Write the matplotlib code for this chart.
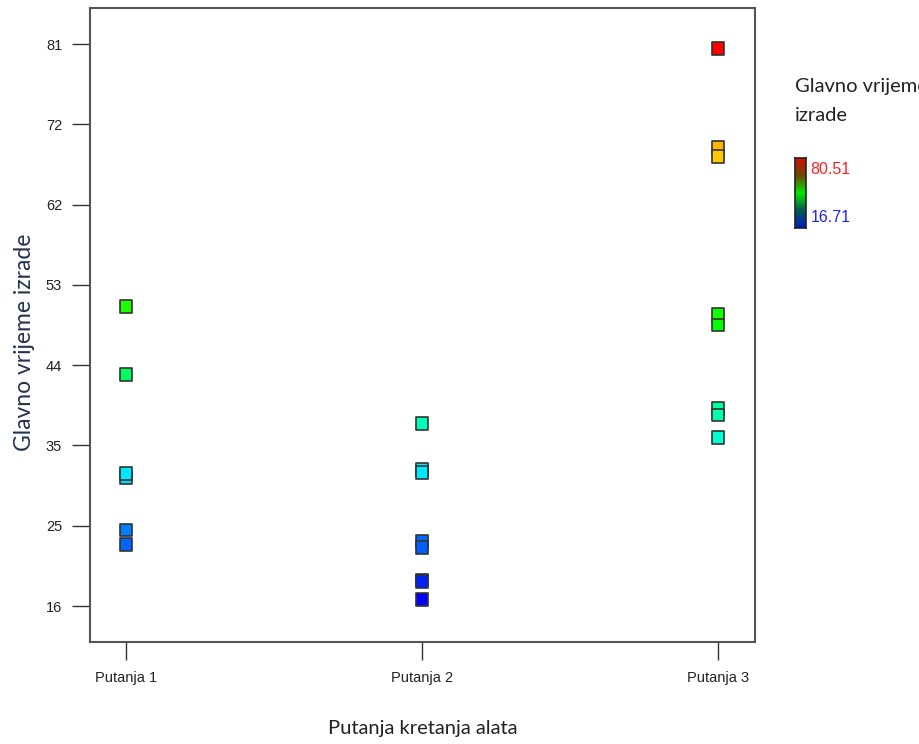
import numpy as np
import matplotlib
matplotlib.use("Agg")
import matplotlib.pyplot as plt
from matplotlib.colors import ListedColormap, LinearSegmentedColormap, hsv_to_rgb

# data
categories = ["Putanja 1", "Putanja 2", "Putanja 3"]
group = [1, 1, 1, 1, 1, 1,
         2, 2, 2, 2, 2, 2, 2, 2,
         3, 3, 3, 3, 3, 3, 3, 3]
vrijeme = [50.6, 42.8, 30.9, 31.3, 23.1, 24.8,
           37.1, 31.8, 31.4, 23.5, 22.8, 19.0, 18.8, 16.71,
           80.51, 69.0, 68.0, 49.7, 48.5, 38.8, 38.1, 35.5]
vmin, vmax = 16.71, 80.51
yticks = np.linspace(16, 81, 8)

# rainbow blue -> red (hue 240 -> 0) for the points
f = np.linspace(0, 1, 256)
hsv = np.column_stack([(1 - f) * 240 / 360, np.ones_like(f), np.ones_like(f)])
point_cmap = ListedColormap(hsv_to_rgb(hsv))
bar_cmap = LinearSegmentedColormap.from_list(
    "bar", ["#0018c8", "#005a50", "#00e800", "#6a4a00", "#d81000"])

arial = ["Liberation Sans", "DejaVu Sans"]
calibri = ["Lato", "DejaVu Sans"]

fig = plt.figure(figsize=(9.2, 7.44), dpi=100)
ax = fig.add_axes([0.0978, 0.1371, 0.7229, 0.8521])

ax.scatter(group, vrijeme, c=vrijeme, cmap=point_cmap, vmin=vmin, vmax=vmax,
           marker="s", s=85, edgecolors="#333333", linewidths=1.2, zorder=3)

ax.set_xlim(0.878, 3.125)
ax.set_ylim(11.84, 85.16)
ax.set_xticks([1, 2, 3])
ax.set_xticklabels(categories, family=arial, fontsize=10.5, color="#222222")
ax.set_yticks(yticks)
ax.set_yticklabels([f"{v:.0f}" for v in yticks], family=arial, fontsize=10.5,
                   color="#222222")
ax.tick_params(axis="x", length=13, width=1, color="#333333", pad=8)
ax.tick_params(axis="y", length=13, width=1, color="#333333", pad=7)
for sp in ax.spines.values():
    sp.set_color("#555555")
    sp.set_linewidth(1.5)

ax.set_xlabel("Putanja kretanja alata", family=calibri, fontsize=14.5,
              color="#222222", labelpad=25)
ax.set_ylabel("Glavno vrijeme izrade", family=calibri, fontsize=16.5,
              color="#22324f")
ax.yaxis.set_label_coords(-0.083, 0.473)

# legend-like colour bar on the right
fig.text(0.864, 0.895, "Glavno vrijeme\nizrade", fontsize=14.5,
         family=calibri, color="#222222", va="top", ha="left",
         linespacing=1.85)
cax = fig.add_axes([0.8645, 0.6935, 0.0115, 0.094])
cax.imshow(np.linspace(1, 0, 100).reshape(-1, 1), cmap=bar_cmap,
           aspect="auto", extent=[0, 1, 0, 1])
cax.set_xticks([])
cax.set_yticks([])
for sp in cax.spines.values():
    sp.set_color("#222222")
    sp.set_linewidth(1.2)
fig.text(0.881, 0.772, f"{vmax:.2f}", color="#ff2020", fontsize=11.5,
         family=arial, va="center")
fig.text(0.881, 0.708, f"{vmin:.2f}", color="#2020ff", fontsize=11.5,
         family=arial, va="center")

fig.savefig("out.png", dpi=100)
